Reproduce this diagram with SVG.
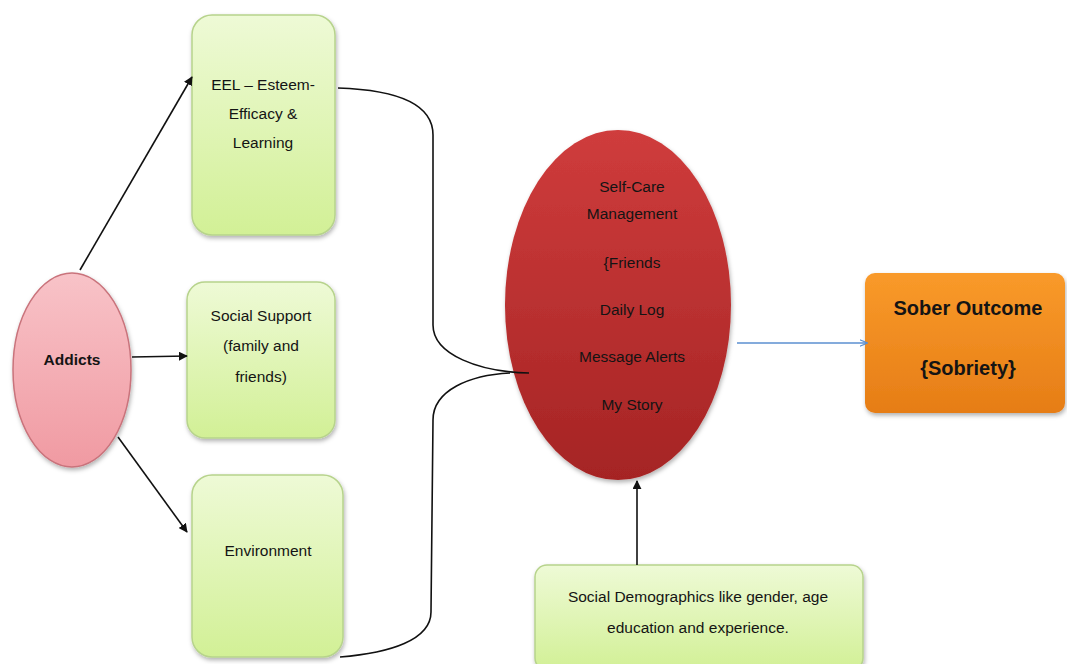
<svg xmlns="http://www.w3.org/2000/svg" width="1067" height="664" viewBox="0 0 1067 664">
<style>
.t{font-family:"Liberation Sans","Open Sans",sans-serif;font-size:15.5px;fill:#141414;text-anchor:middle}
.b{font-weight:bold}
.box{fill:url(#gGreen);stroke:#b7d38c;stroke-width:1.5}
.conn{fill:none;stroke:#111;stroke-width:1.6}
</style>
<defs>
<linearGradient id="gGreen" x1="0" y1="0" x2="0" y2="1">
<stop offset="0" stop-color="#eefad6"/>
<stop offset="1" stop-color="#d2f096"/>
</linearGradient>
<linearGradient id="gPink" x1="0" y1="0" x2="0" y2="1">
<stop offset="0" stop-color="#f8c3c8"/>
<stop offset="1" stop-color="#f09aa2"/>
</linearGradient>
<linearGradient id="gRed" x1="0" y1="0" x2="0" y2="1">
<stop offset="0" stop-color="#cf3c3c"/>
<stop offset="1" stop-color="#a52424"/>
</linearGradient>
<linearGradient id="gOrange" x1="0" y1="0" x2="0" y2="1">
<stop offset="0" stop-color="#f99a2a"/>
<stop offset="1" stop-color="#e67d16"/>
</linearGradient>
<filter id="sh" x="-10%" y="-10%" width="125%" height="125%">
<feDropShadow dx="1" dy="2.5" stdDeviation="2" flood-color="#000" flood-opacity="0.3"/>
</filter>
<marker id="ah" viewBox="0 0 10 10" refX="9" refY="5" markerWidth="9" markerHeight="9" orient="auto" markerUnits="userSpaceOnUse">
<path d="M0,0 L10,5 L0,10 z" fill="#111"/>
</marker>
<marker id="ab" viewBox="0 0 10 10" refX="9" refY="5" markerWidth="8" markerHeight="8" orient="auto" markerUnits="userSpaceOnUse">
<path d="M0,1 L10,5 L0,9" fill="none" stroke="#5b8fd0" stroke-width="1.5"/>
</marker>
</defs>
<rect width="1067" height="664" fill="#fff"/>

<g id="addicts">
<ellipse cx="72" cy="370" rx="59" ry="97" fill="url(#gPink)" stroke="#c9737b" stroke-width="1.5" filter="url(#sh)"/>
<text class="t b" x="72" y="365">Addicts</text>
</g>

<g id="eel">
<rect class="box" x="192" y="15" width="143" height="220" rx="20" filter="url(#sh)"/>
<text class="t" x="263" y="90">EEL – Esteem-</text>
<text class="t" x="263" y="119">Efficacy &amp;</text>
<text class="t" x="263" y="148">Learning</text>
</g>

<g id="social-support">
<rect class="box" x="187" y="282" width="148" height="156" rx="18" filter="url(#sh)"/>
<text class="t" x="261" y="321">Social Support</text>
<text class="t" x="261" y="351">(family and</text>
<text class="t" x="261" y="382">friends)</text>
</g>

<g id="environment">
<rect class="box" x="192" y="475" width="151" height="182" rx="20" filter="url(#sh)"/>
<text class="t" x="268" y="556">Environment</text>
</g>

<g id="self-care">
<ellipse cx="618" cy="305" rx="113" ry="175" fill="url(#gRed)" filter="url(#sh)"/>
<text class="t" x="632" y="192">Self-Care</text>
<text class="t" x="632" y="219">Management</text>
<text class="t" x="632" y="268">{Friends</text>
<text class="t" x="632" y="315">Daily Log</text>
<text class="t" x="632" y="362">Message Alerts</text>
<text class="t" x="632" y="410">My Story</text>
</g>

<g id="sober-outcome">
<rect x="865" y="273" width="200" height="140" rx="10" fill="url(#gOrange)" filter="url(#sh)"/>
<text class="t b" x="968" y="315" style="font-size:20px">Sober Outcome</text>
<text class="t b" x="968" y="375" style="font-size:20px">{Sobriety}</text>
</g>

<g id="demographics">
<rect class="box" x="535" y="565" width="328" height="105" rx="12" filter="url(#sh)"/>
<text class="t" x="698" y="602">Social Demographics like gender, age</text>
<text class="t" x="698" y="633">education and experience.</text>
</g>

<g id="connectors">
<line class="conn" x1="80" y1="270" x2="192" y2="77" marker-end="url(#ah)"/>
<line class="conn" x1="132" y1="357" x2="187" y2="356" marker-end="url(#ah)"/>
<line class="conn" x1="118" y1="437" x2="187" y2="532" marker-end="url(#ah)"/>
<path class="conn" d="M338,88 C400,90 433,105 433,135 L433,325 C433,355 480,372 529,373"/>
<path class="conn" d="M510,373 C470,375 433,390 433,420 L431,612 C431,640 390,653 340,657"/>
<line class="conn" x1="637" y1="565" x2="637" y2="481" marker-end="url(#ah)"/>
<line x1="737" y1="343" x2="867" y2="343" stroke="#5b8fd0" stroke-width="1.5" marker-end="url(#ab)"/>
</g>
</svg>
